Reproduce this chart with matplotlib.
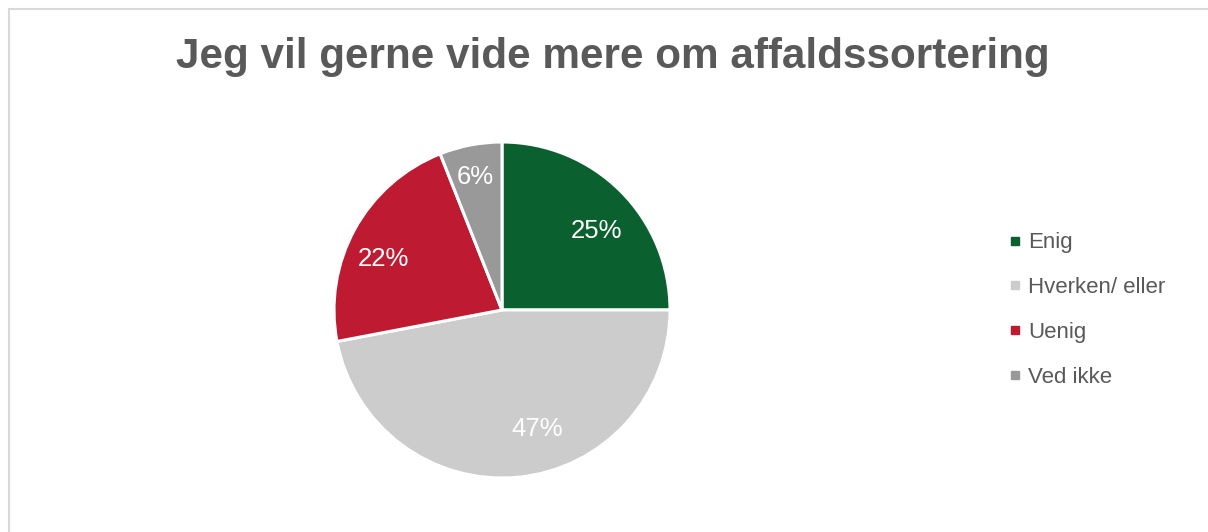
import matplotlib.pyplot as plt
from matplotlib.lines import Line2D
from matplotlib.patches import Rectangle

categories = ["Enig", "Hverken/ eller", "Uenig", "Ved ikke"]
shares = [25, 47, 22, 6]
colors = ["#0b602f", "#cccccc", "#be1a31", "#999999"]

TITLE = "Jeg vil gerne vide mere om affaldssortering"
TEXT_COLOR = "#595959"

# where Excel put the percentage labels (pie radius units)
label_pos = [(0.565, 0.47), (0.208, -0.71), (-0.708, 0.306), (-0.161, 0.79)]

plt.rcParams["font.family"] = ["Liberation Sans", "DejaVu Sans"]

W, H = 1208, 532
fig = plt.figure(figsize=(W / 100, H / 100), dpi=100)

# chart area frame (cut off on the right and bottom like the screenshot)
fig.patches.append(
    Rectangle((9 / W, -0.2), 1.2, 1 - 9 / H + 0.2, transform=fig.transFigure,
              fill=False, edgecolor="#d9d9d9", linewidth=1.5)
)

# pie centre (502, 310) px, radius 168 px
cx, cy, r = 502, 310, 168
ax = fig.add_axes([(cx - r) / W, (H - cy - r) / H, 2 * r / W, 2 * r / H])
wedges, texts, autotexts = ax.pie(
    shares,
    colors=colors,
    startangle=90,
    counterclock=False,
    autopct="%d%%",
    pctdistance=0.75,
    radius=1,
    wedgeprops={"edgecolor": "white", "linewidth": 2.2},
    textprops={"color": "white", "fontsize": 18.5},
)
for t, pos in zip(autotexts, label_pos):
    t.set_position(pos)
ax.set_xlim(-1, 1)
ax.set_ylim(-1, 1)
ax.set_aspect("equal")

fig.text(613 / W, 1 - 68 / H, TITLE, ha="center", va="baseline",
         fontsize=30.4, fontweight="bold", color=TEXT_COLOR)

handles = [Line2D([], [], marker="s", linestyle="", markersize=6,
                  markerfacecolor=c, markeredgecolor=c) for c in colors]
leg = fig.legend(handles, categories, loc="center left",
                 bbox_to_anchor=(988 / W, 1 - 310 / H), frameon=False,
                 fontsize=16, handlelength=0.6, handletextpad=0.3,
                 labelspacing=1.07, labelcolor=TEXT_COLOR)

fig.savefig("out.png", dpi=100, facecolor="white")
